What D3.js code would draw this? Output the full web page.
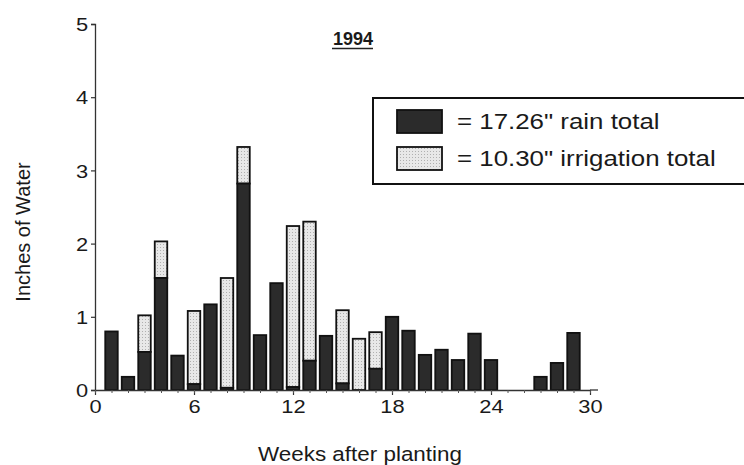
<!DOCTYPE html>
<html><head><meta charset="utf-8">
<script src="https://cdn.jsdelivr.net/npm/d3@7"></script>
<style>body{margin:0;background:#fff}svg{display:block}text{font-family:"Liberation Sans",Arial,sans-serif;fill:#1a1a1a}</style>
</head><body>
<script>
const weeks = [1,2,3,4,5,6,7,8,9,10,11,12,13,14,15,16,17,18,19,20,21,22,23,24,25,26,27,28,29];
const rain = [0.80,0.18,0.52,1.53,0.47,0.08,1.17,0.03,2.82,0.75,1.46,0.04,0.40,0.74,0.09,0.0,0.29,1.0,0.81,0.48,0.55,0.41,0.77,0.41,0,0,0.18,0.37,0.78];
const irrigation = [0,0,0.5,0.5,0,1.0,0,1.5,0.5,0,0,2.2,1.9,0,1.0,0.7,0.5,0,0,0,0,0,0,0,0,0,0,0,0];
const yTicks = [0,1,2,3,4,5];
const xTicks = [0,6,12,18,24,30];
const legendLabels = ['= 17.26" rain total','= 10.30" irrigation total'];
const title = "1994";

const W=744,H=465, SX=1.15;
const svg=d3.select("body").append("svg").attr("width",W).attr("height",H);
const defs=svg.append("defs");
const pat=defs.append("pattern").attr("id","stip").attr("patternUnits","userSpaceOnUse").attr("width",3).attr("height",3);
pat.append("rect").attr("width",3).attr("height",3).attr("fill","#e8e8e8");
pat.append("rect").attr("x",1).attr("y",1).attr("width",1).attr("height",1).attr("fill","#b0b0b0");

const x=d3.scaleLinear().domain([0,30]).range([95,590]);
const y=d3.scaleLinear().domain([0,5]).range([390,24]);
const bw=12.5;

function stretchedText(parent,px,py,size,str,anchor){
  return parent.append("text").attr("transform",`translate(${px},${py}) scale(${SX},1)`)
    .attr("text-anchor",anchor||"start").attr("font-size",size).text(str);
}

// bars
const g=svg.append("g");
weeks.forEach((w,i)=>{
  const r=rain[i], ir=irrigation[i];
  if(ir>0){
    g.append("rect").attr("x",x(w)-bw/2).attr("y",y(r+ir)).attr("width",bw).attr("height",y(r)-y(r+ir))
      .attr("fill","url(#stip)").attr("stroke","#111").attr("stroke-width",1.8);
  }
  g.append("rect").attr("x",x(w)-bw/2).attr("y",y(r)).attr("width",bw).attr("height",Math.max(0,y(0)-y(r)))
    .attr("fill","#2b2b2b").attr("stroke","#111").attr("stroke-width",1.8);
});

// y axis
const ya=svg.append("g").attr("transform","translate(95,0)")
  .call(d3.axisLeft(y).tickValues(yTicks).tickSize(4).tickPadding(2).tickFormat(d3.format("d")));
ya.select(".domain").attr("stroke","#333").attr("stroke-width",1.3);
ya.selectAll(".tick line").attr("stroke","#333").attr("stroke-width",1.2);
ya.selectAll("text").attr("font-size",19).attr("dy","0.35em").attr("transform",`scale(${SX},1)`).style("fill","#1a1a1a");

// x axis
const xa=svg.append("g").attr("transform","translate(0,390)")
  .call(d3.axisBottom(x).tickValues(xTicks).tickSize(5).tickPadding(5).tickSizeOuter(0).tickFormat(d3.format("d")));
xa.select(".domain").attr("stroke","#333").attr("stroke-width",1.3);
xa.selectAll(".tick line").attr("stroke","#333").attr("stroke-width",1.2);
xa.selectAll("text").attr("font-size",19).attr("transform",`scale(${SX},1)`).style("fill","#1a1a1a");
// minor ticks per week
const xm=svg.append("g").attr("transform","translate(0,390)")
  .call(d3.axisBottom(x).tickValues(d3.range(0,31)).tickSize(3).tickFormat(""));
xm.select(".domain").remove();
xm.selectAll(".tick line").attr("stroke","#555").attr("stroke-width",1);
svg.append("line").attr("x1",x(30)).attr("x2",x(30)+8).attr("y1",390).attr("y2",390).attr("stroke","#333").attr("stroke-width",1.3);

// axis titles
stretchedText(svg,360,461,19.5,"Weeks after planting","middle");
svg.append("text").attr("transform","translate(30,232) rotate(-90)").attr("text-anchor","middle").attr("font-size",20).text("Inches of Water");

// title
svg.append("text").attr("x",353).attr("y",45).attr("text-anchor","middle").attr("font-size",18).attr("font-weight","bold").text(title);
svg.append("line").attr("x1",332).attr("x2",373).attr("y1",48.5).attr("y2",48.5).attr("stroke","#222").attr("stroke-width",1.6);

// legend
const lg=svg.append("g");
lg.append("rect").attr("x",373).attr("y",98).attr("width",375).attr("height",86).attr("fill","#fff").attr("stroke","#111").attr("stroke-width",2);
const fills=["#2b2b2b","url(#stip)"];
legendLabels.forEach((lab,i)=>{
  const yy=110+i*37;
  lg.append("rect").attr("x",397).attr("y",yy).attr("width",45).attr("height",23).attr("fill",fills[i]).attr("stroke","#111").attr("stroke-width",1.8);
  stretchedText(lg,457,yy+19,22.5,lab,"start");
});
</script>
</body></html>
